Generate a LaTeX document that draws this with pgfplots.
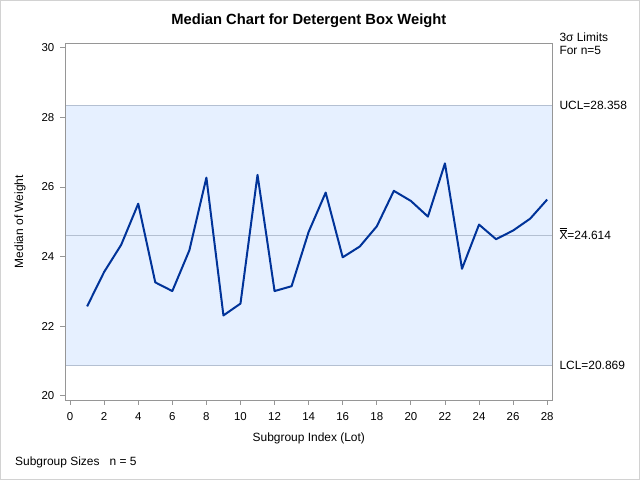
\documentclass[border=0pt]{standalone}
\usepackage{pgfplots}
\pgfplotsset{compat=1.18}
\usepackage{fontspec}
\setmainfont{Liberation Sans}
\definecolor{band}{RGB}{230,240,255}
\definecolor{limline}{RGB}{180,192,210}
\definecolor{series}{RGB}{0,51,153}
\definecolor{framec}{RGB}{150,150,150}
\definecolor{outer}{RGB}{210,210,210}
\pgfplotstableread{
x y
1 22.57
2 23.56
3 24.34
4 25.52
5 23.26
6 23.01
7 24.18
8 26.27
9 22.31
10 22.65
11 26.35
12 23.01
13 23.15
14 24.71
15 25.84
16 23.98
17 24.29
18 24.87
19 25.89
20 25.60
21 25.15
22 26.68
23 23.65
24 24.92
25 24.50
26 24.75
27 25.09
28 25.64
}\medians
\begin{document}
\begin{tikzpicture}[x=1bp,y=1bp]
\draw[draw=outer, line width=1bp] (0.5,0.5) rectangle (639.5,479.5);
\useasboundingbox (0,0) rectangle (640,480);
\node[anchor=base west, inner sep=0, font=\fontsize{12}{14}\selectfont] at (15,14.5) {Subgroup Sizes\hspace{10bp}n = 5};
\begin{axis}[
  at={(65.3bp,80bp)}, anchor=south west,
  scale only axis, width=487bp, height=356.7bp,
  xmin=-0.28, xmax=28.3, ymin=19.88, ymax=30.13,
  xtick={0,2,...,28}, ytick={20,22,...,30},
  xtick pos=bottom, ytick pos=left,
  tick align=outside, major tick length=5bp,
  tick style={framec, line width=0.8bp},
  axis line style={framec, line width=0.8bp},
  /pgf/number format/assume math mode=true,
  ticklabel style={font=\fontsize{11.5}{13}\selectfont},
  xticklabel style={yshift=-4bp},
  yticklabel style={xshift=-2.5bp},
  title={Median Chart for Detergent Box Weight},
  title style={font=\fontsize{14.8}{17}\selectfont\bfseries, at={(axis description cs:0.5,1.0457)}, anchor=center},
  xlabel={Subgroup Index (Lot)},
  xlabel style={font=\fontsize{12}{14}\selectfont, at={(axis description cs:0.5,-0.1065)}, anchor=center},
  ylabel={Median of Weight},
  ylabel style={font=\fontsize{12}{14}\selectfont, at={(axis description cs:-0.093,0.5)}, anchor=center},
  clip=false,
  axis on top,
]
\addplot[fill=band, draw=none] coordinates {(-0.28,20.869) (28.3,20.869) (28.3,28.358) (-0.28,28.358)} -- cycle;
\addplot[limline, line width=0.8bp] coordinates {(-0.28,28.358) (28.3,28.358)};
\addplot[limline, line width=0.8bp] coordinates {(-0.28,24.614) (28.3,24.614)};
\addplot[limline, line width=0.8bp] coordinates {(-0.28,20.869) (28.3,20.869)};
\addplot[series, line width=2bp, line join=round, mark=none] table[x=x,y=y] {\medians};
\node[anchor=base west, inner sep=0, xshift=7bp, yshift=-4.3bp, font=\fontsize{12}{14}\selectfont] at (axis cs:28.3,28.358) {UCL=28.358};
\node[anchor=base west, inner sep=0, xshift=7bp, yshift=-4.3bp, font=\fontsize{12}{14}\selectfont] at (axis cs:28.3,24.614) {$\overline{\overline{\mbox{X}}}$=24.614};
\node[anchor=base west, inner sep=0, xshift=7bp, yshift=-4.3bp, font=\fontsize{12}{14}\selectfont] at (axis cs:28.3,20.869) {LCL=20.869};
\node[anchor=base west, inner sep=0, xshift=7bp, yshift=1.5bp, font=\fontsize{12}{14}\selectfont] at (rel axis cs:1,1) {3σ Limits};
\node[anchor=base west, inner sep=0, xshift=7bp, yshift=-11.5bp, font=\fontsize{12}{14}\selectfont] at (rel axis cs:1,1) {For n=5};
\end{axis}
\end{tikzpicture}
\end{document}
